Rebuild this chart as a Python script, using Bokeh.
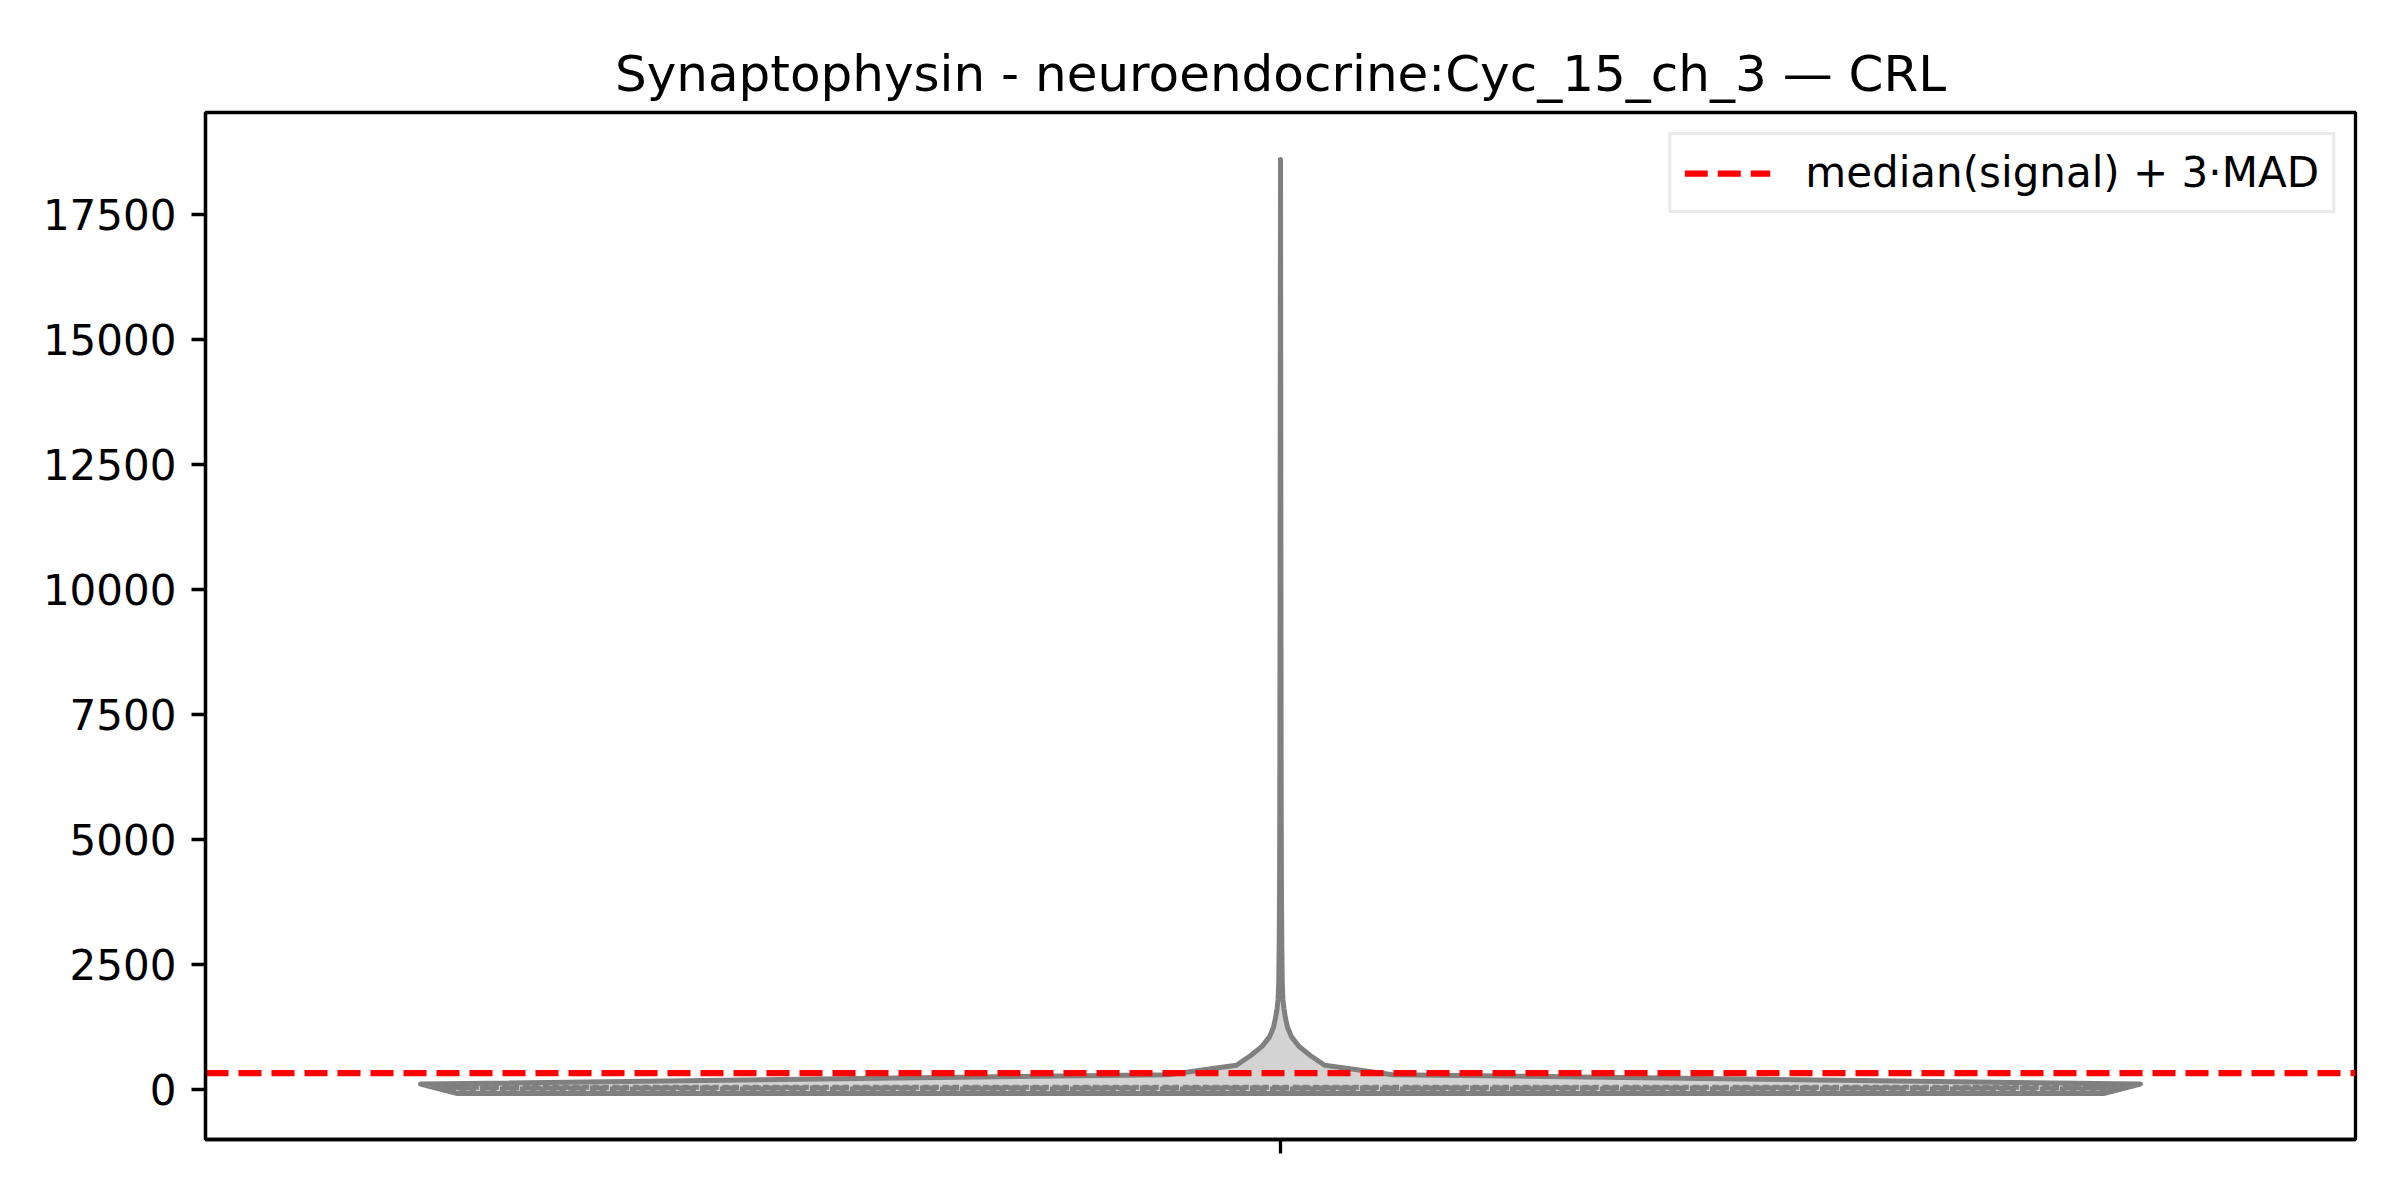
import numpy as np
from bokeh.plotting import figure
from bokeh.models import Range1d, FixedTicker, Legend, LegendItem
from bokeh.embed import file_html
from bokeh.resources import INLINE

title_text = "Synaptophysin - neuroendocrine:Cyc_15_ch_3 \u2014 CRL"
legend_label = "median(signal) + 3\u00b7MAD"

# KDE profile of the single violin: signal value and relative density (max = 1)
violin_values = [-80, 109, 297, 486, 675, 863, 1052, 1241, 1429, 1618, 1807,
                 2184, 2940, 4000, 6000, 10000, 14000, 18600]
violin_density = [0.957, 1.0, 0.1305, 0.0513, 0.035, 0.0215, 0.0128, 0.0082,
                  0.0058, 0.0040, 0.0028, 0.0020, 0.0015, 0.0011, 0.0008,
                  0.0005, 0.0003, 0.0]

# inner quartile lines (Q1, median, Q3)
quartile_values = [10, 30, 46]
# median(signal) + 3*MAD threshold
threshold = 330

y_ticks = [0, 2500, 5000, 7500, 10000, 12500, 15000, 17500]

x_start, x_end = -0.5, 0.5
y_start, y_end = -1000, 19540

violin_width = 0.8
center = 0.0

vals = np.array(violin_values, dtype=float)
dens = np.array(violin_density, dtype=float)
half = violin_width / 2 * dens

xs = list(center - half) + list((center + half)[::-1])
ys = list(vals) + list(vals[::-1])

FONT = "DejaVu Sans"

p = figure(frame_width=2150, frame_height=1027,
           min_border_left=205, min_border_right=37,
           min_border_top=112, min_border_bottom=53,
           x_range=Range1d(x_start, x_end), y_range=Range1d(y_start, y_end),
           output_backend="svg", toolbar_location=None,
           background_fill_color="white", border_fill_color="white")

p.patch(xs, ys, fill_color="#d3d3d3", line_color="#808080", line_width=5,
        line_join="round", line_cap="round")

for i, q in enumerate(quartile_values):
    hw = violin_width / 2 * float(np.interp(q, vals, dens))
    dash = "17 5" if i == 1 else "6 4"
    p.line([center - hw, center + hw], [q, q], line_color="#808080",
           line_width=5, line_dash=dash)

# horizontal threshold line across the whole axis
thr_r = p.line(x=[x_start, x_end], y=[threshold, threshold], line_color="red",
               line_width=6.25, line_dash="23 10")

legend = Legend(items=[LegendItem(label=legend_label, renderers=[thr_r])],
                location="top_right", margin=20, padding=13, spacing=0,
                glyph_width=86, glyph_height=40, label_height=40,
                label_standoff=35,
                label_text_font=FONT, label_text_font_size="42px",
                label_text_color="black",
                border_line_color="#d6d6d6", border_line_width=3,
                background_fill_color="white", background_fill_alpha=0.8)
p.add_layout(legend)

# title
p.title.text = title_text
p.title.align = "center"
p.title.text_font = FONT
p.title.text_font_size = "50px"
p.title.text_font_style = "normal"
p.title.text_color = "black"
p.title.standoff = 20

# grids off
p.xgrid.visible = False
p.ygrid.visible = False

p.outline_line_color = "black"
p.outline_line_width = 3.3

yax = p.yaxis[0]
yax.ticker = FixedTicker(ticks=y_ticks)
yax.major_label_text_font = FONT
yax.major_label_text_font_size = "42px"
yax.major_label_text_color = "black"
yax.major_tick_out = 14
yax.major_tick_in = 0
yax.major_tick_line_width = 3.3
yax.minor_tick_line_color = None
yax.axis_line_color = "black"
yax.axis_line_width = 3.3
yax.major_label_standoff = 15

xax = p.xaxis[0]
xax.ticker = FixedTicker(ticks=[center])
xax.major_label_overrides = {0: ""}
xax.major_label_text_font_size = "0px"
xax.major_tick_out = 14
xax.major_tick_in = 0
xax.major_tick_line_width = 3.3
xax.minor_tick_line_color = None
xax.axis_line_color = "black"
xax.axis_line_width = 3.3

open("out.html", "w").write(file_html(p, INLINE))
